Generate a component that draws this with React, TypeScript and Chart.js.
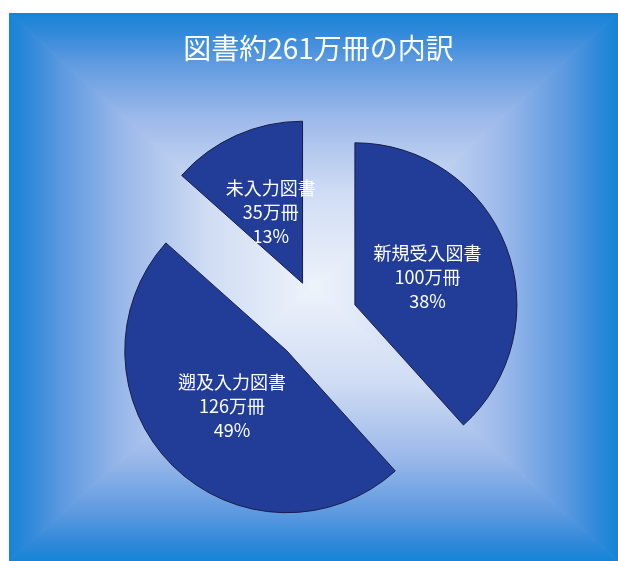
import React, { useEffect, useRef } from 'react';
import { Chart, PieController, registerables } from 'chart.js';

Chart.register(...registerables);

const categories = ['新規受入図書', '遡及入力図書', '未入力図書'];
const volumes = [100, 126, 35]; // 万冊
const percents = [38, 49, 13];
const titleText = '図書約261万冊の内訳';
const unit = '万冊';

class ExplodedPieController extends PieController {
  static id = 'explodedPie';
  updateElement(element: any, index: number, properties: any, mode: any) {
    const ds: any = this.getDataset();
    const shifts: number[] = ds.explode || [];
    if (properties && typeof properties.startAngle === 'number' && typeof properties.x === 'number') {
      const mid = (properties.startAngle + properties.endAngle) / 2;
      const s = shifts[index] || 0;
      properties.x += Math.cos(mid) * s;
      properties.y += Math.sin(mid) * s;
    }
    super.updateElement(element, index, properties, mode);
  }
}
Chart.register(ExplodedPieController as any);

const FONT = '"Noto Sans CJK JP", "Noto Sans", sans-serif';

const rectGradientPlugin = {
  id: 'rectGradient',
  beforeDraw(chart: any) {
    const ctx = chart.ctx as CanvasRenderingContext2D;
    const W = chart.width;
    const H = chart.height;
    const cx = W / 2;
    const cy = H / 2;
    const stops: [number, string][] = [
      [0, '#eef3fb'],
      [0.35, '#cfdcf3'],
      [0.62, '#9cb9ea'],
      [0.82, '#5e9ae0'],
      [0.93, '#3189da'],
      [1, '#1684d6'],
    ];
    const tris: { pts: number[][]; to: number[] }[] = [
      { pts: [[0, 0], [W, 0]], to: [cx, 0] },
      { pts: [[W, 0], [W, H]], to: [W, cy] },
      { pts: [[W, H], [0, H]], to: [cx, H] },
      { pts: [[0, H], [0, 0]], to: [0, cy] },
    ];
    ctx.save();
    for (const t of tris) {
      ctx.beginPath();
      ctx.moveTo(cx, cy);
      ctx.lineTo(t.pts[0][0], t.pts[0][1]);
      ctx.lineTo(t.pts[1][0], t.pts[1][1]);
      ctx.closePath();
      const g = ctx.createLinearGradient(cx, cy, t.to[0], t.to[1]);
      for (const [o, c] of stops) g.addColorStop(o, c);
      ctx.fillStyle = g;
      ctx.fill();
      ctx.strokeStyle = g;
      ctx.lineWidth = 1;
      ctx.stroke();
    }
    ctx.restore();
  },
};

const sliceLabelPlugin = {
  id: 'sliceLabels',
  afterDatasetsDraw(chart: any) {
    const ctx = chart.ctx as CanvasRenderingContext2D;
    const meta = chart.getDatasetMeta(0);
    ctx.save();
    ctx.fillStyle = '#ffffff';
    ctx.font = `18px ${FONT}`;
    ctx.textAlign = 'center';
    ctx.textBaseline = 'middle';
    meta.data.forEach((arc: any, i: number) => {
      const { x, y, startAngle, endAngle, outerRadius } = arc.getProps(
        ['x', 'y', 'startAngle', 'endAngle', 'outerRadius'],
        true
      );
      const mid = (startAngle + endAngle) / 2;
      const d = outerRadius * 0.48;
      const px = x + Math.cos(mid) * d;
      const py = y + Math.sin(mid) * d;
      const lines = [categories[i], `${volumes[i]}${unit}`, `${percents[i]}%`];
      lines.forEach((ln, k) => {
        ctx.fillText(ln, px, py + (k - 1) * 24);
      });
    });
    ctx.restore();
  },
};

export default function App() {
  const ref = useRef<HTMLCanvasElement | null>(null);
  useEffect(() => {
    if (!ref.current) return;
    const chart = new Chart(ref.current, {
      type: 'explodedPie' as any,
      data: {
        labels: categories,
        datasets: [
          {
            data: volumes,
            backgroundColor: '#213d98',
            borderColor: '#1a1d45',
            borderWidth: 1,
            explode: [39, 45, 39],
          } as any,
        ],
      },
      options: {
        responsive: false,
        animation: false,
        radius: 162,
        layout: { padding: { left: 20, right: 10, top: 0, bottom: 1 } },
        plugins: {
          legend: { display: false },
          tooltip: { enabled: false },
          title: {
            display: true,
            text: titleText,
            color: '#ffffff',
            font: { family: FONT, size: 28, weight: 'normal' },
            padding: { top: 19, bottom: 12 },
          },
        },
      } as any,
      plugins: [rectGradientPlugin, sliceLabelPlugin],
    });
    return () => chart.destroy();
  }, []);
  return (
    <div style={{ position: 'absolute', left: 0, top: 0, width: 618, height: 561, background: '#ffffff', overflow: 'hidden' }}>
      <canvas
        ref={ref}
        width={609}
        height={548}
        style={{ position: 'absolute', left: 9, top: 13, width: 609, height: 548 }}
      />
    </div>
  );
}
